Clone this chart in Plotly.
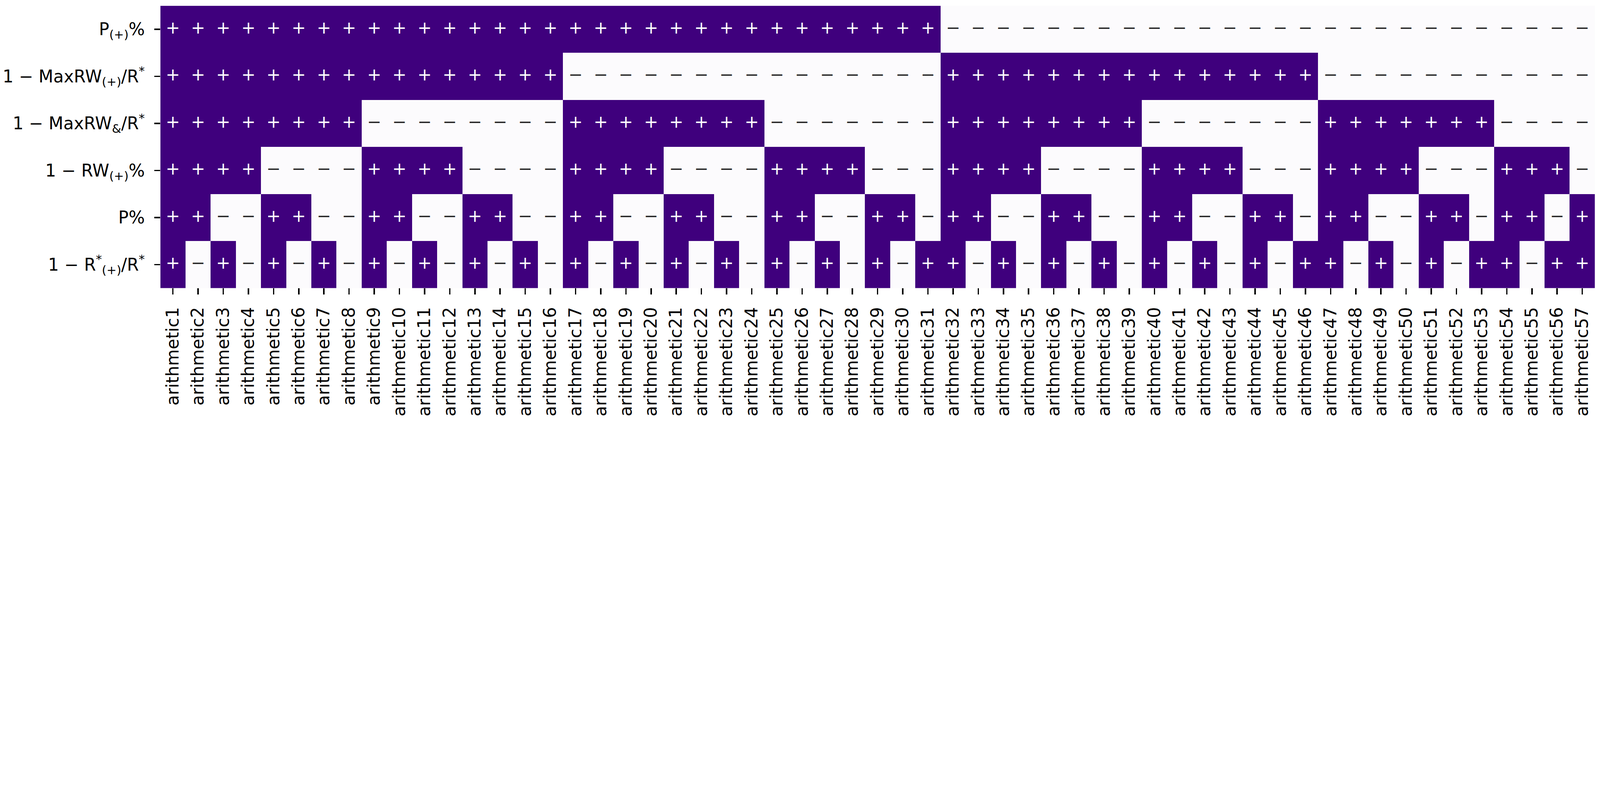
import plotly.graph_objects as go

# ---- data ----
columns = [f"arithmetic{i}" for i in range(1, 58)]

row_labels = [
    "P<sub>(+)</sub>%",
    "1 − MaxRW<sub>(+)</sub>/R<sup>*</sup>",
    "1 − MaxRW<sub>&amp;</sub>/R<sup>*</sup>",
    "1 − RW<sub>(+)</sub>%",
    "P%",
    "1 − R<sup>*</sup><sub>(+)</sub>/R<sup>*</sup>",
]

row_p_plus = "+++++++++++++++++++++++++++++++" "--------------------------"
row_maxrw_plus = "++++++++++++++++" "---------------" "+++++++++++++++" "-----------"
row_maxrw_and = "++++++++" "--------" "++++++++" "-------" "++++++++" "-------" "+++++++" "----"
row_rw_plus = "++++----++++----++++----++++---" "++++----++++---++++---+++-"
row_p = "++--++--++--++--++--++--++--++-" "++--++--++--++-++--++-++-+"
row_r_plus = "+-+-+-+-+-+-+-+-+-+-+-+-+-+-+-+" "+-+-+-+-+-+-+-+" "+-+-+-+" "+-++"

rows_signs = [row_p_plus, row_maxrw_plus, row_maxrw_and, row_rw_plus, row_p, row_r_plus]

# ---- build ----
z = [[1 if c == "+" else 0 for c in r] for r in rows_signs]

DARK = "#3f007d"
LIGHT = "#fcfbfd"
FONT = "DejaVu Sans"
FS = 83
W, H = 7784, 2038

fig = go.Figure()
fig.add_trace(go.Heatmap(
    z=z, x=columns, y=row_labels,
    colorscale=[[0, LIGHT], [1, DARK]], zmin=0, zmax=1,
    showscale=False, hoverinfo="skip",
))

px_, py_, mx_, my_ = [], [], [], []
for ri, r in enumerate(rows_signs):
    for ci, c in enumerate(r):
        if c == "+":
            px_.append(columns[ci]); py_.append(row_labels[ri])
        else:
            mx_.append(columns[ci]); my_.append(row_labels[ri])

fig.add_trace(go.Scatter(
    x=px_, y=py_, mode="text", text=["+"] * len(px_),
    textfont=dict(family=FONT, size=FS, color="white"),
    textposition="middle center", hoverinfo="skip", showlegend=False,
))
fig.add_trace(go.Scatter(
    x=mx_, y=my_, mode="text", text=["−"] * len(mx_),
    textfont=dict(family=FONT, size=FS, color="#262626"),
    textposition="middle center", hoverinfo="skip", showlegend=False,
))

fig.update_layout(
    width=W, height=H,
    margin=dict(l=780, r=25, t=28, b=623, pad=0),
    paper_bgcolor="white", plot_bgcolor="white",
    font=dict(family=FONT, size=FS, color="black"),
    showlegend=False,
)
fig.update_xaxes(
    type="category", categoryorder="array", categoryarray=columns,
    tickmode="array", tickvals=columns, ticktext=columns,
    tickangle=-90, ticks="outside", ticklen=29, tickwidth=6.7, tickcolor="black",
    ticklabelstandoff=29,
    showgrid=False, zeroline=False, showline=False,
    tickfont=dict(family=FONT, size=FS, color="black"),
    range=[-0.5, 56.5],
)
fig.update_yaxes(
    type="category", categoryorder="array", categoryarray=row_labels,
    autorange="reversed",
    ticks="outside", ticklen=29, tickwidth=6.7, tickcolor="black",
    ticklabelstandoff=29,
    showgrid=False, zeroline=False, showline=False,
    tickfont=dict(family=FONT, size=FS, color="black"),
)

# fit the full-size figure into the browser viewport if it is narrower
post = ("var gd=document.getElementById('{plot_id}');"
        "document.documentElement.style.overflow='hidden';"
        "document.body.style.margin='0';document.body.style.overflow='hidden';"
        "var s=Math.min(1, window.innerWidth/%d, window.innerHeight/%d);"
        "gd.style.transformOrigin='0 0';gd.style.transform='scale('+s+')';" % (W, H))
fig.write_html("out.html", post_script=post, config={"displayModeBar": False})
